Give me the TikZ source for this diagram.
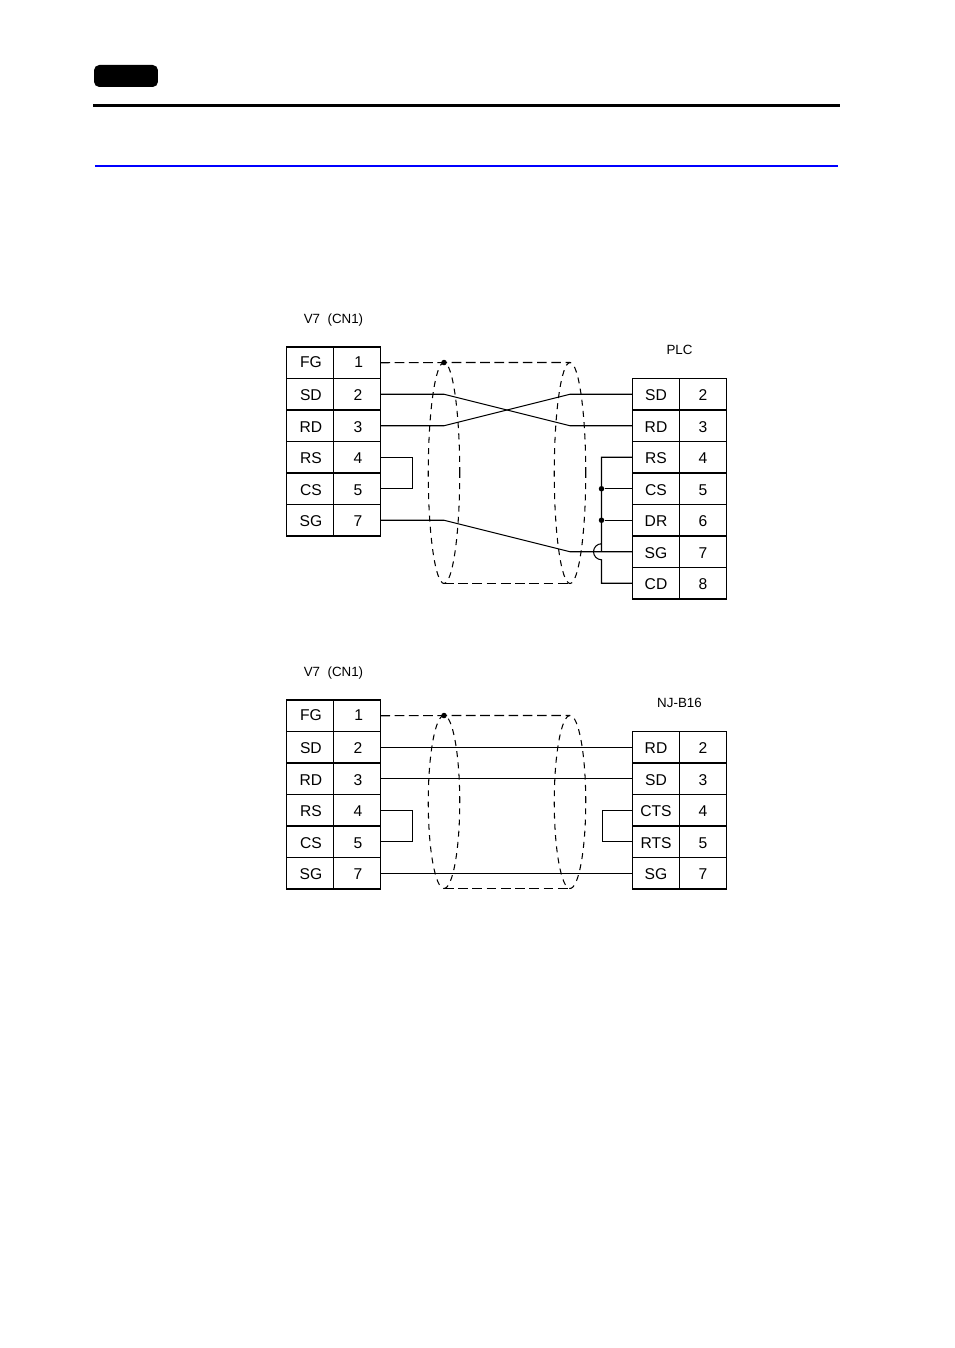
\documentclass[tikz,border=0pt]{standalone}
\usepackage{fontspec}
\setmainfont{Liberation Sans}
\usetikzlibrary{shapes.geometric}
\begin{document}
\begin{tikzpicture}[
    x=0.02cm, y=-0.02cm,
    line width=0.6pt,
    cell/.style={rectangle, draw, inner sep=0pt, outer sep=0pt, minimum width=0.94cm, minimum height=0.63cm, text height=7.5pt, text depth=0pt, font=\fontsize{8.9}{10}\selectfont},
    caption/.style={inner sep=0pt, font=\fontsize{7.6}{9}\selectfont},
    shield/.style={ellipse, draw, dash pattern=on 3.4pt off 3pt, inner sep=0pt, outer sep=0pt, minimum width=0.63cm},
    shieldline/.style={dash pattern=on 5.5pt off 2.6pt},
    junction/.style={circle, fill, inner sep=0pt, minimum size=0.11cm}
]
    \useasboundingbox (0,0) rectangle (954,1348);

    % Page header
    \node[rectangle, fill, rounded corners=3pt, inner sep=0pt, minimum width=1.28cm, minimum height=0.44cm] (tab) at (126,76) {};
    \draw[line width=1.7pt] (93,105.5) -- (840,105.5);
    \draw[blue, line width=0.9pt] (95,166) -- (838,166);

    % Captions
    \node[caption] (capA) at (333.5,320) {V7\ \ (CN1)};
    \node[caption] (capB) at (679.5,349.5) {PLC};
    \node[caption] (capC) at (333.5,673) {V7\ \ (CN1)};
    \node[caption] (capD) at (679.5,703) {NJ-B16};

    % V7 connector, upper
    \foreach \sig/\pin/\y in {SD/2/394.25, RD/3/425.75, RS/4/457.25, CS/5/488.75, SG/7/520.25} {
        \node[cell] (up\sig) at (310,\y) {\kern1pt\sig};
        \node[cell] (ua\pin) at (357,\y) {\kern1pt\pin};
    }
    \node[cell, text height=5.6pt] (upFG) at (310,362.75) {\kern1pt FG};
    \node[cell, text height=5.6pt] (ua1) at (357,362.75) {\kern2pt 1};
    % PLC connector
    \foreach \sig/\pin/\y in {SD/2/394.25, RD/3/425.75, RS/4/457.25, CS/5/488.75, DR/6/520.25, SG/7/551.75, CD/8/583.25} {
        \node[cell] (plc\sig) at (656,\y) {\sig};
        \node[cell] (plcp\pin) at (703,\y) {\pin};
    }
    \draw[line width=0.9pt] (plcCS.south west) -- (plcp5.south east);

    % Shield, upper
    \node[shield, minimum height=4.42cm] (shieldA) at (444,473) {};
    \node[shield, minimum height=4.42cm] (shieldB) at (570,473) {};
    \draw[shieldline] (ua1.east) -- (shieldA.north) -- (shieldB.north);
    \draw[shieldline] (shieldA.south) -- (shieldB.south);
    \node[junction] (dotA) at (shieldA.north) {};

    % Wires, upper
    \draw (ua2.east) -- (shieldA |- ua2.east) -- (shieldB |- plcRD.west) -- (plcRD.west);
    \draw (ua3.east) -- (shieldA |- ua3.east) -- (shieldB |- plcSD.west) -- (plcSD.west);
    \draw (ua7.east) -- (shieldA |- ua7.east) -- (shieldB |- plcSG.west) -- (plcSG.west);
    \draw (ua4.east) -- ++(32,0) |- (ua5.east);

    % PLC side links
    \coordinate (busTop) at (601.5,457.25);
    \coordinate (busBot) at (601.5,583.25);
    \draw (plcRS.west) -- (busTop) -- (busTop |- plcSG.west) ++(0,-8) arc[start angle=90, end angle=270, radius=0.16cm] -- (busBot) -- (plcCD.west);
    \node[junction] (dotB) at (busTop |- plcCS.west) {};
    \node[junction] (dotC) at (busTop |- plcDR.west) {};
    \draw (dotB) -- (plcCS.west);
    \draw (dotC) -- (plcDR.west);

    % V7 connector, lower
    \foreach \sig/\pin/\y in {SD/2/747.25, RD/3/778.75, RS/4/810.25, CS/5/841.75, SG/7/873.25} {
        \node[cell] (lo\sig) at (310,\y) {\kern1pt\sig};
        \node[cell] (lb\pin) at (357,\y) {\kern1pt\pin};
    }
    \node[cell, text height=5.6pt] (loFG) at (310,715.75) {\kern1pt FG};
    \node[cell, text height=5.6pt] (lb1) at (357,715.75) {\kern2pt 1};
    % NJ-B16 connector
    \foreach \sig/\pin/\y in {RD/2/747.25, SD/3/778.75, CTS/4/810.25, RTS/5/841.75, SG/7/873.25} {
        \node[cell] (nj\sig) at (656,\y) {\sig};
        \node[cell] (njp\pin) at (703,\y) {\pin};
    }
    \draw[line width=0.9pt] (njp2.north east) -- (njp7.south east);
    \draw[line width=0.9pt] (njSD.south west) -- (njp3.south east);

    % Shield, lower
    \node[shield, minimum height=3.46cm] (shieldC) at (444,802) {};
    \node[shield, minimum height=3.46cm] (shieldD) at (570,802) {};
    \draw[shieldline] (lb1.east) -- (shieldC.north) -- (shieldD.north);
    \draw[shieldline] (shieldC.south) -- (shieldD.south);
    \node[junction] (dotD) at (shieldC.north) {};

    % Wires, lower
    \draw (lb2.east) -- (njRD.west);
    \draw (lb3.east) -- (njSD.west);
    \draw (lb7.east) -- (njSG.west);
    \draw (lb4.east) -- ++(32,0) |- (lb5.east);
    \draw (njCTS.west) -- ++(-30,0) |- (njRTS.west);
\end{tikzpicture}
\end{document}
